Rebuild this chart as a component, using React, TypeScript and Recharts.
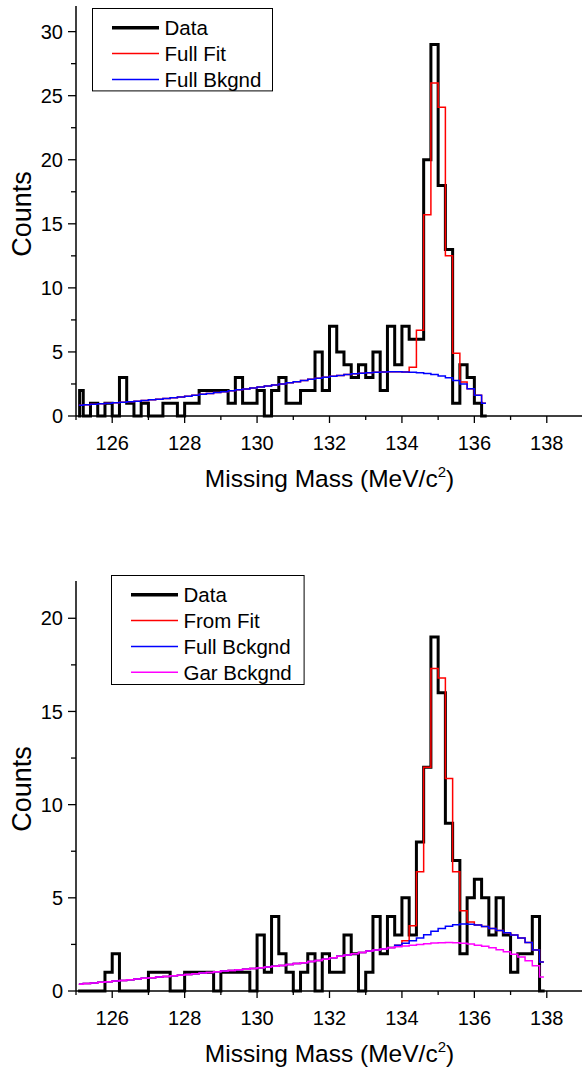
import React from 'react';
import { LineChart, Line, XAxis, YAxis, Legend } from 'recharts';

const FONT = '"Liberation Sans", Arial, Helvetica, sans-serif';

// Bin centres (MeV/c^2), 0.2 MeV bins
const binCenters = [
  125.1, 125.3, 125.5, 125.7, 125.9, 126.1, 126.3, 126.5, 126.7, 126.9,
  127.1, 127.3, 127.5, 127.7, 127.9, 128.1, 128.3, 128.5, 128.7, 128.9,
  129.1, 129.3, 129.5, 129.7, 129.9, 130.1, 130.3, 130.5, 130.7, 130.9,
  131.1, 131.3, 131.5, 131.7, 131.9, 132.1, 132.3, 132.5, 132.7, 132.9,
  133.1, 133.3, 133.5, 133.7, 133.9, 134.1, 134.3, 134.5, 134.7, 134.9,
  135.1, 135.3, 135.5, 135.7, 135.9, 136.1, 136.3, 136.5, 136.7, 136.9,
  137.1, 137.3, 137.5, 137.7, 137.9,
];

// ---- Top panel ----
const topData = [
  2, 0, 1, 0, 1, 0, 3, 1, 0, 1,
  0, 0, 1, 1, 0, 1, 1, 2, 2, 2,
  2, 1, 3, 1, 1, 2, 0, 2, 3, 1,
  1, 2, 2, 5, 2, 7, 5, 4, 3, 4,
  3, 5, 2, 7, 4, 7, 6, 6, 20, 29,
  18, 13, 1, 4, 3, 1, 0,
];
const topFullFit = [
  0.84, 0.87, 0.91, 0.95, 0.99, 1.03, 1.07, 1.11, 1.16, 1.21,
  1.26, 1.31, 1.37, 1.43, 1.49, 1.55, 1.62, 1.69, 1.76, 1.83,
  1.9, 1.97, 2.04, 2.11, 2.18, 2.26, 2.34, 2.42, 2.5, 2.59,
  2.68, 2.77, 2.86, 2.95, 3.03, 3.1, 3.17, 3.23, 3.29, 3.34,
  3.38, 3.41, 3.44, 3.45, 3.45, 3.44, 3.8, 6.7, 15.7, 26.0,
  24.1, 12.5, 4.9, 2.65, 2.12, 1.62, 1.0,
];
const topFullBkgnd = [
  0.84, 0.87, 0.91, 0.95, 0.99, 1.03, 1.07, 1.11, 1.16, 1.21,
  1.26, 1.31, 1.37, 1.43, 1.49, 1.55, 1.62, 1.69, 1.76, 1.83,
  1.9, 1.97, 2.04, 2.11, 2.18, 2.26, 2.34, 2.42, 2.5, 2.59,
  2.68, 2.77, 2.86, 2.95, 3.03, 3.1, 3.17, 3.23, 3.29, 3.34,
  3.38, 3.41, 3.44, 3.45, 3.45, 3.44, 3.42, 3.38, 3.32, 3.24,
  3.13, 2.98, 2.78, 2.5, 2.12, 1.62, 1.0,
];

// ---- Bottom panel ----
const bottomData = [
  0, 0, 0, 0, 1, 2, 0, 0, 0, 0,
  1, 1, 1, 0, 0, 1, 1, 1, 1, 0,
  1, 1, 1, 1, 0, 3, 1, 4, 2, 1,
  0, 1, 2, 0, 2, 1, 1, 3, 2, 0,
  1, 4, 2, 4, 3, 5, 3, 8, 12, 19,
  16, 9, 7, 2, 5, 6, 5, 3, 5, 3,
  1, 2, 2, 4, 0,
];
const bottomFromFit = [
  0.36, 0.4, 0.43, 0.47, 0.5, 0.54, 0.57, 0.61, 0.64, 0.68,
  0.71, 0.75, 0.78, 0.82, 0.85, 0.89, 0.92, 0.96, 0.99, 1.03,
  1.07, 1.1, 1.14, 1.17, 1.21, 1.25, 1.29, 1.33, 1.37, 1.42,
  1.47, 1.52, 1.58, 1.64, 1.7, 1.78, 1.86, 1.93, 2.0, 2.07,
  2.14, 2.2, 2.26, 2.33, 2.45, 2.7, 3.5, 6.4, 12.0, 17.3,
  16.8, 11.4, 6.4, 4.3, 3.7, 3.54, 3.46, 3.36, 3.24, 3.12,
  3.0, 2.85, 2.6, 2.2, 1.55,
];
const bottomFullBckgnd = [
  0.36, 0.4, 0.43, 0.47, 0.5, 0.54, 0.57, 0.61, 0.64, 0.68,
  0.71, 0.75, 0.78, 0.82, 0.85, 0.89, 0.92, 0.96, 0.99, 1.03,
  1.07, 1.1, 1.14, 1.17, 1.21, 1.25, 1.29, 1.33, 1.37, 1.42,
  1.47, 1.52, 1.58, 1.64, 1.7, 1.78, 1.86, 1.93, 2.0, 2.07,
  2.14, 2.2, 2.26, 2.33, 2.45, 2.56, 2.7, 2.85, 3.02, 3.2,
  3.36, 3.48, 3.56, 3.6, 3.58, 3.54, 3.46, 3.36, 3.24, 3.12,
  3.0, 2.85, 2.6, 2.2, 1.55,
];
const bottomGarBckgnd = [
  0.36, 0.4, 0.43, 0.47, 0.5, 0.54, 0.57, 0.61, 0.64, 0.68,
  0.71, 0.75, 0.78, 0.82, 0.85, 0.89, 0.92, 0.96, 0.99, 1.03,
  1.07, 1.1, 1.14, 1.17, 1.21, 1.25, 1.29, 1.33, 1.37, 1.42,
  1.47, 1.52, 1.58, 1.64, 1.7, 1.78, 1.86, 1.93, 2.0, 2.07,
  2.14, 2.2, 2.26, 2.32, 2.37, 2.42, 2.46, 2.5, 2.54, 2.57,
  2.59, 2.6, 2.59, 2.56, 2.52, 2.46, 2.4, 2.32, 2.22, 2.1,
  1.97, 1.82, 1.62, 1.35, 0.75,
];

const xTicks = [125, 126, 127, 128, 129, 130, 131, 132, 133, 134, 135, 136, 137, 138, 139];
const xLabelTicks = [126, 128, 130, 132, 134, 136, 138];
const topYTicks = [0, 2.5, 5, 7.5, 10, 12.5, 15, 17.5, 20, 22.5, 25, 27.5, 30];
const topYLabels = [0, 5, 10, 15, 20, 25, 30];
const bottomYTicks = [0, 2.5, 5, 7.5, 10, 12.5, 15, 17.5, 20];
const bottomYLabels = [0, 5, 10, 15, 20];

type Pt = { x: number; y: number };
const toPoints = (vals: number[], lead: boolean): Pt[] => {
  const pts = vals.map((y, i) => ({ x: binCenters[i], y }));
  return lead ? [{ x: binCenters[0], y: 0 }, ...pts] : pts;
};

const XTick = (props: any) => {
  const { x, y, payload } = props;
  const v = payload.value;
  const major = xLabelTicks.includes(v);
  return (
    <g>
      <line x1={x} x2={x} y1={y} y2={y + (major ? 7 : 4)} stroke="#000" strokeWidth={1.3} />
      {major && (
        <text x={x} y={y + 34} textAnchor="middle" fontSize={20} fontFamily={FONT} fill="#000">
          {v}
        </text>
      )}
    </g>
  );
};

const makeYTick = (labels: number[]) => (props: any) => {
  const { x, y, payload } = props;
  const v = payload.value;
  const major = labels.includes(v);
  return (
    <g>
      <line x1={x - (major ? 8 : 5)} x2={x} y1={y} y2={y} stroke="#000" strokeWidth={1.3} />
      {major && (
        <text x={x - 13} y={y} dy="0.355em" textAnchor="end" fontSize={20} fontFamily={FONT} fill="#000">
          {v}
        </text>
      )}
    </g>
  );
};

const XTitle = (props: any) => {
  const vb = props.viewBox || { x: 76, y: 416, width: 507, height: 77 };
  const cx = vb.x + vb.width / 2;
  const y = vb.y + 71;
  return (
    <text x={cx} y={y} textAnchor="middle" fontSize={24.5} fontFamily={FONT} fill="#000">
      Missing Mass (MeV/c<tspan dy={-10} fontSize={15}>2</tspan>
      <tspan dy={10}>)</tspan>
    </text>
  );
};

const YTitle = (props: any) => {
  const vb = props.viewBox || { x: 0, y: 6, width: 76, height: 410 };
  const cy = vb.y + vb.height / 2 + 3;
  const bx = 31;
  return (
    <text
      x={bx}
      y={cy}
      textAnchor="middle"
      fontSize={27}
      fontFamily={FONT}
      fill="#000"
      transform={`rotate(-90, ${bx}, ${cy})`}
    >
      Counts
    </text>
  );
};

type Series = { name: string; values: number[]; color: string; width: number; lead: boolean };

const makeLegend = (series: Series[], boxW: number, boxH: number) => (props: any) => {
  const payload: any[] = props.payload || [];
  return (
    <svg width={boxW + 2} height={boxH + 2} style={{ display: 'block' }}>
      <rect x={0.5} y={0.5} width={boxW} height={boxH} fill="#fff" stroke="#000" strokeWidth={1} />
      {series.map((s, k) => {
        const item = payload.find((p) => p.value === s.name);
        const color = (item && item.color) || s.color;
        const rowY = 19.8 + k * 25.8;
        return (
          <g key={s.name}>
            <line x1={20} x2={67} y1={rowY} y2={rowY} stroke={color} strokeWidth={s.width === 3 ? 3.5 : 1.5} />
            <text x={72.5} y={rowY} dy="0.36em" fontSize={20.5} fontFamily={FONT} fill="#000">
              {s.name}
            </text>
          </g>
        );
      })}
    </svg>
  );
};

type PanelProps = {
  series: Series[];
  yMax: number;
  yTicks: number[];
  yLabels: number[];
  legendPos: { left: number; top: number; w: number; h: number };
};

const Panel = ({ series, yMax, yTicks, yLabels, legendPos }: PanelProps) => (
  <LineChart width={583} height={493} margin={{ top: 6, right: 0, bottom: 0, left: 0 }}>
    <XAxis
      type="number"
      dataKey="x"
      domain={[125, 139]}
      ticks={xTicks}
      interval={0}
      tickSize={0}
      tickMargin={0}
      tickLine={false}
      tick={XTick}
      axisLine={{ stroke: '#000', strokeWidth: 1.5 }}
      height={77}
      label={XTitle}
    />
    <YAxis
      type="number"
      dataKey="y"
      domain={[0, yMax]}
      ticks={yTicks}
      interval={0}
      tickSize={0}
      tickMargin={0}
      tickLine={false}
      tick={makeYTick(yLabels)}
      axisLine={{ stroke: '#000', strokeWidth: 1.5 }}
      width={76}
      label={YTitle}
    />
    <Legend
      layout="vertical"
      align="center"
      verticalAlign="middle"
      content={makeLegend(series, legendPos.w, legendPos.h)}
      wrapperStyle={{ left: legendPos.left, top: legendPos.top, width: legendPos.w + 2, height: legendPos.h + 2 }}
    />
    {series.map((s) => (
      <Line
        key={s.name}
        name={s.name}
        data={toPoints(s.values, s.lead)}
        dataKey="y"
        type="step"
        stroke={s.color}
        strokeWidth={s.width}
        dot={false}
        activeDot={false}
        isAnimationActive={false}
        strokeLinejoin="miter"
        strokeLinecap="square"
      />
    ))}
  </LineChart>
);

const topSeries: Series[] = [
  { name: 'Data', values: topData, color: '#000000', width: 3, lead: true },
  { name: 'Full Fit', values: topFullFit, color: '#ff0000', width: 1.5, lead: false },
  { name: 'Full Bkgnd', values: topFullBkgnd, color: '#0000ff', width: 1.5, lead: false },
];

const bottomSeries: Series[] = [
  { name: 'Data', values: bottomData, color: '#000000', width: 3, lead: true },
  { name: 'From Fit', values: bottomFromFit, color: '#ff0000', width: 1.5, lead: false },
  { name: 'Full Bckgnd', values: bottomFullBckgnd, color: '#0000ff', width: 1.5, lead: false },
  { name: 'Gar Bckgnd', values: bottomGarBckgnd, color: '#ff00ff', width: 1.5, lead: false },
];

export default function App() {
  return (
    <div
      style={{
        position: 'absolute',
        left: 0,
        top: 0,
        width: 582,
        height: 1068,
        overflow: 'hidden',
        background: '#fff',
        fontFamily: FONT,
      }}
    >
      <div style={{ position: 'absolute', left: 0, top: 0 }}>
        <Panel
          series={topSeries}
          yMax={32}
          yTicks={topYTicks}
          yLabels={topYLabels}
          legendPos={{ left: 91.7, top: 8.3, w: 180, h: 82.4 }}
        />
      </div>
      <div style={{ position: 'absolute', left: 0, top: 574.7 }}>
        <Panel
          series={bottomSeries}
          yMax={22}
          yTicks={bottomYTicks}
          yLabels={bottomYLabels}
          legendPos={{ left: 110.7, top: 0.3, w: 192.6, h: 109 }}
        />
      </div>
    </div>
  );
}
